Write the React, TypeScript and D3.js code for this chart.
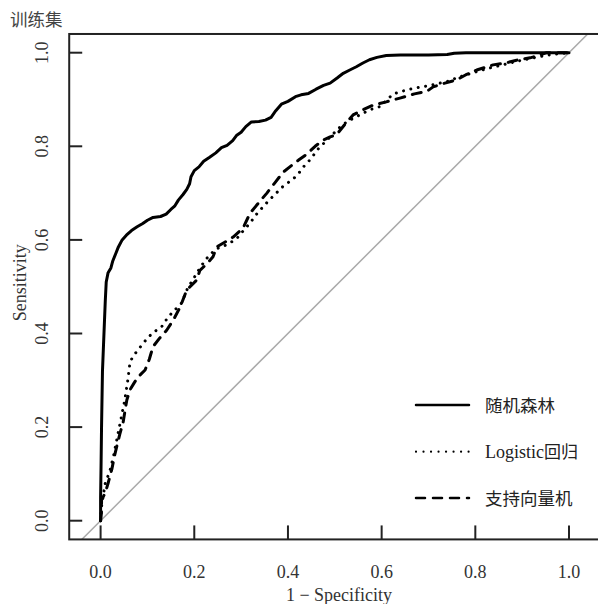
import React from "react";
import * as d3 from "d3";

// ROC points: [1 - specificity, sensitivity]
const rfPoints: [number, number][] = [
  [0, 0], [0, 0.05], [0.001, 0.12], [0.002, 0.2], [0.003, 0.26], [0.004, 0.32],
  [0.006, 0.37], [0.008, 0.42], [0.01, 0.47], [0.012, 0.51], [0.016, 0.53],
  [0.022, 0.54], [0.026, 0.555], [0.032, 0.57], [0.038, 0.585], [0.046, 0.6],
  [0.055, 0.61], [0.066, 0.62], [0.078, 0.628], [0.09, 0.635], [0.1, 0.642],
  [0.112, 0.648], [0.128, 0.65], [0.14, 0.655], [0.15, 0.665], [0.158, 0.672],
  [0.166, 0.685], [0.176, 0.697], [0.184, 0.708], [0.19, 0.72], [0.193, 0.735],
  [0.2, 0.748], [0.21, 0.756], [0.22, 0.768], [0.232, 0.776], [0.246, 0.786],
  [0.258, 0.797], [0.27, 0.802], [0.282, 0.812], [0.29, 0.823], [0.3, 0.83],
  [0.31, 0.842], [0.322, 0.852], [0.338, 0.853], [0.352, 0.856], [0.364, 0.862],
  [0.374, 0.876], [0.386, 0.89], [0.4, 0.896], [0.416, 0.906], [0.428, 0.91],
  [0.444, 0.913], [0.46, 0.922], [0.476, 0.93], [0.49, 0.935], [0.505, 0.946],
  [0.518, 0.956], [0.532, 0.963], [0.546, 0.97], [0.56, 0.978], [0.574, 0.985],
  [0.59, 0.99], [0.61, 0.994], [0.64, 0.995], [0.7, 0.995], [0.74, 0.996],
  [0.755, 0.999], [0.78, 1.0], [1, 1],
];

const logisticPoints: [number, number][] = [
  [0, 0], [0.002, 0.03], [0.005, 0.05], [0.01, 0.08], [0.02, 0.107], [0.028, 0.14],
  [0.036, 0.18], [0.044, 0.22], [0.052, 0.26], [0.058, 0.3], [0.063, 0.34],
  [0.072, 0.355], [0.08, 0.365], [0.09, 0.378], [0.1, 0.39], [0.112, 0.402],
  [0.13, 0.414], [0.144, 0.435], [0.158, 0.45], [0.173, 0.465], [0.185, 0.495],
  [0.2, 0.52], [0.212, 0.54], [0.226, 0.56], [0.245, 0.58], [0.27, 0.59],
  [0.29, 0.602], [0.305, 0.62], [0.319, 0.636], [0.333, 0.655], [0.347, 0.671],
  [0.36, 0.685], [0.375, 0.7], [0.39, 0.715], [0.404, 0.725], [0.419, 0.737],
  [0.433, 0.756], [0.447, 0.771], [0.465, 0.795], [0.483, 0.813], [0.5, 0.83],
  [0.515, 0.845], [0.532, 0.856], [0.555, 0.868], [0.575, 0.878], [0.597, 0.885],
  [0.612, 0.9], [0.625, 0.912], [0.645, 0.918], [0.66, 0.922], [0.68, 0.926],
  [0.703, 0.93], [0.72, 0.934], [0.739, 0.938], [0.765, 0.948], [0.795, 0.957],
  [0.825, 0.966], [0.859, 0.974], [0.89, 0.982], [0.924, 0.989], [0.955, 0.995],
  [0.98, 0.998], [1, 1],
];

const svmPoints: [number, number][] = [
  [0, 0], [0.002, 0.02], [0.002, 0.044], [0.01, 0.06], [0.016, 0.08], [0.024, 0.11],
  [0.03, 0.14], [0.036, 0.165], [0.041, 0.185], [0.048, 0.21], [0.056, 0.258],
  [0.063, 0.28], [0.072, 0.295], [0.08, 0.307], [0.095, 0.322], [0.104, 0.345],
  [0.112, 0.372], [0.126, 0.39], [0.141, 0.407], [0.156, 0.43], [0.17, 0.457],
  [0.184, 0.493], [0.205, 0.514], [0.212, 0.535], [0.228, 0.55], [0.24, 0.564],
  [0.248, 0.585], [0.265, 0.595], [0.283, 0.606], [0.304, 0.625], [0.319, 0.657],
  [0.338, 0.68], [0.355, 0.7], [0.372, 0.722], [0.39, 0.745], [0.404, 0.756],
  [0.422, 0.77], [0.44, 0.783], [0.458, 0.8], [0.475, 0.813], [0.49, 0.82],
  [0.504, 0.825], [0.52, 0.845], [0.539, 0.867], [0.56, 0.878], [0.582, 0.888],
  [0.61, 0.895], [0.639, 0.903], [0.67, 0.912], [0.696, 0.917], [0.71, 0.927],
  [0.735, 0.935], [0.76, 0.942], [0.78, 0.953], [0.803, 0.963], [0.838, 0.974],
  [0.865, 0.978], [0.888, 0.984], [0.917, 0.989], [0.938, 0.995], [0.952, 1.0],
  [1, 1],
];

const seriesNames = ["随机森林", "Logistic回归", "支持向量机"];
const tickValues = [0, 0.2, 0.4, 0.6, 0.8, 1.0];

const serif = "Liberation Serif";
const cjk = "Noto Sans CJK SC";

export default function App() {
  const width = 598;
  const height = 604;

  const x = d3.scaleLinear().domain([0, 1]).range([100.6, 569]);
  const y = d3.scaleLinear().domain([0, 1]).range([520.7, 52.7]);

  const boxL = x(-0.067);
  const boxR = x(1.067);
  const boxT = y(1.04);
  const boxB = y(-0.04);

  const line = d3
    .line<[number, number]>()
    .x(d => x(d[0]))
    .y(d => y(d[1]));

  const styles = [
    { dash: undefined as string | undefined, w: 3 },
    { dash: "0.01,7.5", w: 3 },
    { dash: "9,8", w: 3 },
  ];
  const series = [rfPoints, logisticPoints, svmPoints];

  const legendY = [405, 451.7, 498];

  return (
    <svg
      width={width}
      height={height}
      style={{ position: "absolute", left: 0, top: 0, background: "#fff" }}
    >
      <defs>
        <clipPath id="plotclip">
          <rect x={boxL} y={boxT} width={boxR - boxL} height={boxB - boxT} />
        </clipPath>
      </defs>
      <rect x={0} y={0} width={width} height={height} fill="#fff" />

      {/* title */}
      <text x={10} y={26} style={{ fontFamily: cjk }} fontSize={17.5} fill="#444">
        训练集
      </text>

      {/* reference diagonal */}
      <line
        x1={x(-0.1)}
        y1={y(-0.1)}
        x2={x(1.1)}
        y2={y(1.1)}
        stroke="#aaa"
        strokeWidth={1.5}
        clipPath="url(#plotclip)"
      />

      {/* curves */}
      <g clipPath="url(#plotclip)">
        {series.map((pts, i) => (
          <path
            key={i}
            d={line(pts) || ""}
            fill="none"
            stroke="#000"
            strokeWidth={styles[i].w}
            strokeDasharray={styles[i].dash}
            strokeLinecap="round"
            strokeLinejoin="round"
          />
        ))}
      </g>

      {/* box */}
      <rect
        x={boxL}
        y={boxT}
        width={boxR - boxL}
        height={boxB - boxT}
        fill="none"
        stroke="#222"
        strokeWidth={2}
      />

      <g style={{ fontFamily: serif }} fontSize={18} fill="#333">
        {/* x axis */}
        {tickValues.map(t => (
          <g key={"x" + t}>
            <line x1={x(t)} x2={x(t)} y1={boxB} y2={boxB - 14} stroke="#222" strokeWidth={2} />
            <text x={x(t)} y={578} textAnchor="middle">
              {t.toFixed(1)}
            </text>
          </g>
        ))}
        <text x={339} y={601} textAnchor="middle">
          1 − Specificity
        </text>

        {/* y axis */}
        {tickValues.map(t => (
          <g key={"y" + t}>
            <line x1={boxL} x2={boxL + 13} y1={y(t)} y2={y(t)} stroke="#222" strokeWidth={2} />
            <text transform={`translate(48,${y(t)}) rotate(-90)`} textAnchor="middle">
              {t.toFixed(1)}
            </text>
          </g>
        ))}
        <text
          transform={`translate(26,${(boxT + boxB) / 2 - 4}) rotate(-90)`}
          textAnchor="middle"
        >
          Sensitivity
        </text>
      </g>

      {/* legend */}
      {seriesNames.map((name, i) => (
        <g key={name}>
          <line
            x1={416}
            x2={469}
            y1={legendY[i]}
            y2={legendY[i]}
            stroke="#000"
            strokeWidth={i === 1 ? 2.2 : 2.5}
            strokeDasharray={styles[i].dash}
            strokeLinecap="round"
          />
          {i === 1 ? (
            <text x={485} y={legendY[i] + 6.5} fontSize={18} fill="#222">
              <tspan style={{ fontFamily: serif }}>Logistic</tspan>
              <tspan style={{ fontFamily: cjk }} fontSize={17}>回归</tspan>
            </text>
          ) : (
            <text x={485} y={legendY[i] + 6.5} style={{ fontFamily: cjk }} fontSize={17.5} fill="#222">
              {name}
            </text>
          )}
        </g>
      ))}
    </svg>
  );
}
